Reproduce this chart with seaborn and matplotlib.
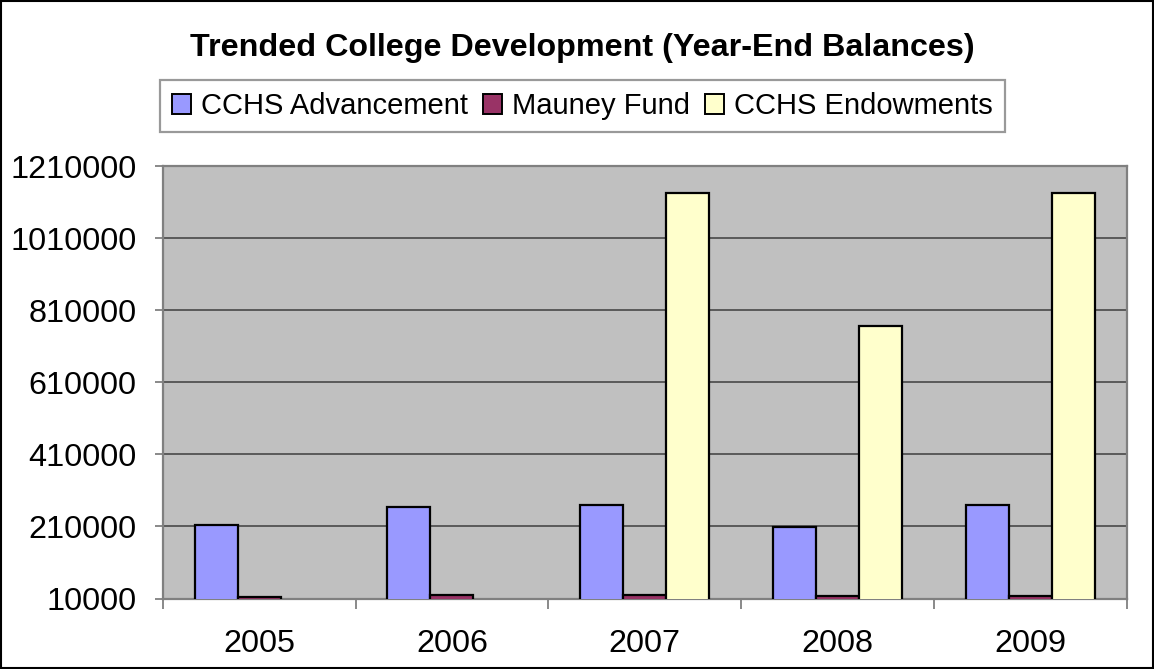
import matplotlib
matplotlib.use("Agg")
import matplotlib.pyplot as plt
from matplotlib.patches import Rectangle
import numpy as np
import pandas as pd
import seaborn as sns

years = ["2005", "2006", "2007", "2008", "2009"]
series_names = ["CCHS Advancement", "Mauney Fund", "CCHS Endowments"]
advancement = [214000, 265000, 270000, 209000, 269000]
mauney = [15500, 20000, 20000, 17000, 16500]
endowments = [0, 0, 1137000, 766000, 1137000]
y_ticks = [10000, 210000, 410000, 610000, 810000, 1010000, 1210000]
colors = ["#9999FF", "#993366", "#FFFFCC"]

df = pd.DataFrame({
    "year": years * 3,
    "series": [s for s in series_names for _ in years],
    "value": advancement + mauney + endowments,
})

sns.set_theme(style="white")
plt.rcParams["font.family"] = ["Liberation Sans", "DejaVu Sans"]
plt.rcParams["text.color"] = "black"

W, H = 1154, 669
fig = plt.figure(figsize=(W / 100, H / 100), dpi=100)
fig.patch.set_facecolor("white")

left, right, top, bottom = 162.7, 1126.7, 166.3, 598.5
ax = fig.add_axes([left / W, 1 - bottom / H, (right - left) / W, (bottom - top) / H])
ax.set_facecolor("#C0C0C0")

sns.barplot(data=df, x="year", y="value", hue="series", order=years,
            hue_order=series_names, palette=colors, width=0.67,
            edgecolor="black", linewidth=1.6, saturation=1, ax=ax, zorder=3)

ax.set_ylim(y_ticks[0], y_ticks[-1])
ax.set_xlim(-0.5, len(years) - 0.5)
ax.set_yticks(y_ticks)
ax.set_yticklabels([str(v) for v in y_ticks], fontsize=23.3, color="black")
ax.set_xticks(range(len(years)))
ax.set_xticklabels(years, fontsize=23.3, color="black")
ax.set_xticks(np.arange(-0.5, len(years)), minor=True)
ax.tick_params(axis="x", which="major", length=0, pad=22)
ax.tick_params(axis="x", which="minor", length=7, width=1.3, color="#808080", direction="out", bottom=True)
ax.tick_params(axis="y", which="major", length=6, width=1.3, color="#808080", direction="out", left=True, pad=13)
ax.set_xlabel("")
ax.set_ylabel("")

ax.yaxis.grid(True, color="#5a5a5a", linewidth=1.4, zorder=1)
ax.set_axisbelow(True)
for name, sp in ax.spines.items():
    sp.set_visible(True)
    sp.set_color("#808080")
    sp.set_linewidth(1.6)

handles, labels = ax.get_legend_handles_labels()
ax.get_legend().remove()
leg = fig.legend(handles, labels, loc="center", bbox_to_anchor=(582.5 / W, 1 - 106 / H),
                 ncol=3, fontsize=21, frameon=True, fancybox=False,
                 handlelength=0.66, handleheight=0.66, handletextpad=0.33,
                 columnspacing=0.52, borderpad=0.42, borderaxespad=0,
                 labelcolor="black")
leg.get_frame().set_edgecolor("#808080")
leg.get_frame().set_linewidth(1.6)
for h in leg.legend_handles:
    h.set_edgecolor("black")
    h.set_linewidth(1.4)

fig.text(582.5 / W, 1 - 48 / H, "Trended College Development (Year-End Balances)",
         ha="center", va="center", fontsize=23.2, fontweight="bold", color="black")

fig.patches.append(Rectangle((0.0008, 0.0012), 0.9984, 0.9976, transform=fig.transFigure,
                             fill=False, edgecolor="black", linewidth=1.5))

fig.savefig("out.png", dpi=100)
